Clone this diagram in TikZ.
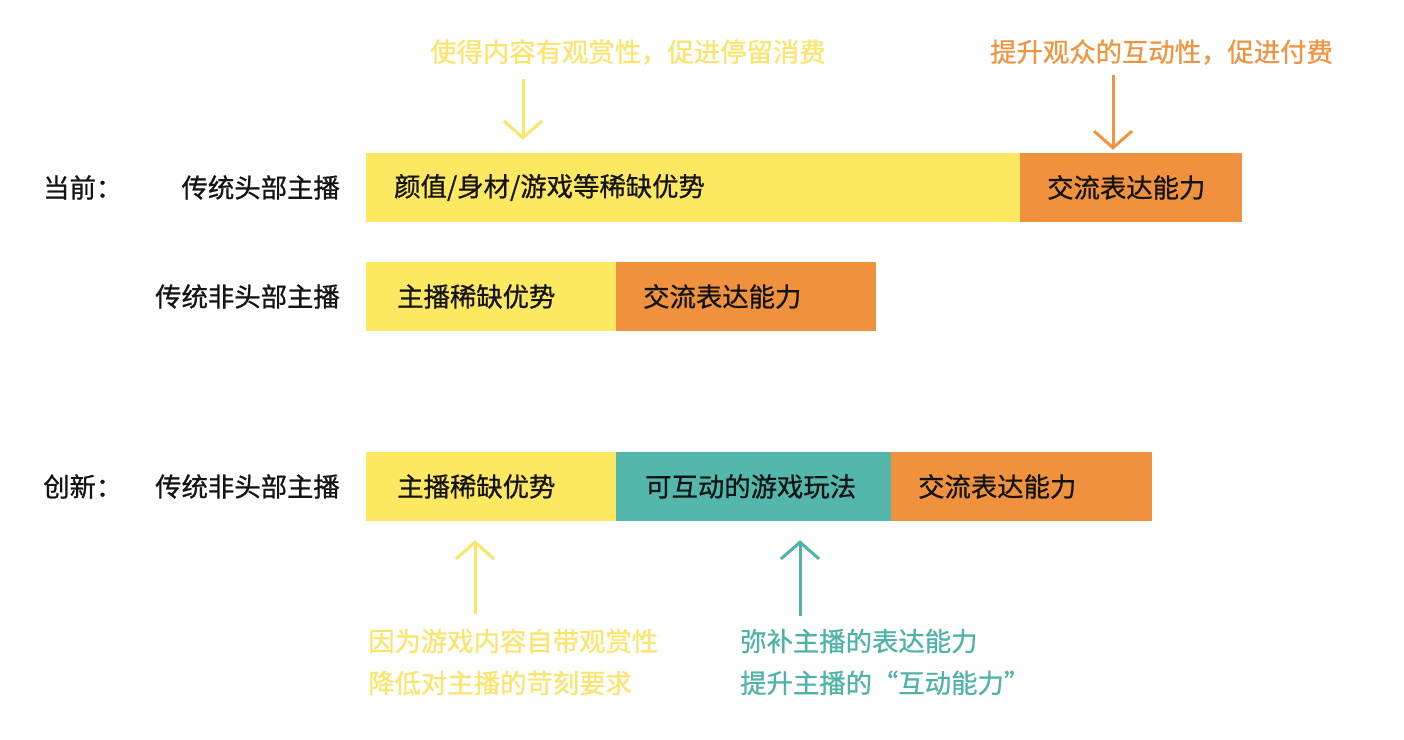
\documentclass[tikz,border=0pt]{standalone}
\usepackage{fontspec}
\setmainfont{Noto Sans CJK SC}[FakeBold=0.8]
\usetikzlibrary{arrows.meta,positioning}
\newlength\px
\setlength\px{0.03cm}
\definecolor{barYellow}{HTML}{FDE862}
\definecolor{barOrange}{HTML}{F0923D}
\definecolor{barTeal}{HTML}{53B7AC}
\definecolor{noteYellow}{HTML}{FBE46C}
\definecolor{noteOrange}{HTML}{EF9440}
\definecolor{noteTeal}{HTML}{4FB3A8}
\begin{document}
\begin{tikzpicture}[
    x=1\px, y=1\px,
    bar/.style={rectangle, anchor=west, minimum height=69\px, inner sep=0pt},
    txt/.style={inner sep=0pt, font=\fontsize{22.5}{27}\selectfont, text=black!92},
    tag/.style={txt, anchor=east},
    note/.style={inner sep=0pt, font=\fontsize{22.5}{35.7}\selectfont, anchor=west, align=left},
    pointer/.style={line width=0.09cm, -{Straight Barb[length=0.5cm, width=1.14cm, line width=0.09cm]}},
]
    \useasboundingbox (0,0) rectangle (1404,740);
    % current: top streamers
    \node[bar, fill=barYellow, minimum width=654\px] (cur) at (366,552.5) {};
    \node[bar, fill=barOrange, minimum width=222\px] (curTalk) at ([xshift=-0.5\px]cur.east) {};
    \node[txt, right=28\px of cur.west] (curTxt) {颜值/身材/游戏等稀缺优势};
    \node[txt, right=27\px of curTalk.west] (curTalkTxt) {交流表达能力};
    \node[txt, anchor=west] (nowTag) at (43,552.5) {当前：};
    \node[tag] (curTag) at (340,552.5) {传统头部主播};
    % current: non-top streamers
    \node[bar, fill=barYellow, minimum width=250\px] (low) at (366,443.5) {};
    \node[bar, fill=barOrange, minimum width=260\px] (lowTalk) at ([xshift=-0.5\px]low.east) {};
    \node[txt, right=31\px of low.west] (lowTxt) {主播稀缺优势};
    \node[txt, right=27\px of lowTalk.west] (lowTalkTxt) {交流表达能力};
    \node[tag] (lowTag) at (340,443.5) {传统非头部主播};
    % new: non-top streamers with games
    \node[bar, fill=barYellow, minimum width=250\px] (new) at (366,253.5) {};
    \node[bar, fill=barTeal, minimum width=275\px] (newGame) at ([xshift=-0.5\px]new.east) {};
    \node[bar, fill=barOrange, minimum width=261\px] (newTalk) at ([xshift=-0.5\px]newGame.east) {};
    \node[txt, right=31\px of new.west] (newTxt) {主播稀缺优势};
    \node[txt, right=29\px of newGame.west] (newGameTxt) {可互动的游戏玩法};
    \node[txt, right=27\px of newTalk.west] (newTalkTxt) {交流表达能力};
    \node[txt, anchor=west] (newLabel) at (43,253.5) {创新：};
    \node[tag] (newTag) at (340,253.5) {传统非头部主播};
    % notes
    \node[note, text=noteYellow] (viewNote) at (430,688) {使得内容有观赏性，促进停留消费};
    \node[note, text=noteOrange] (payNote) at (990,688) {提升观众的互动性，促进付费};
    \node[note, text=noteYellow] (gameNote) at (368,78) {因为游戏内容自带观赏性\\降低对主播的苛刻要求};
    \node[note, text=noteTeal] (talkNote) at (740,78) {弥补主播的表达能力\\提升主播的“互动能力”};
    \coordinate (viewPt) at (523,0);
    \coordinate (payPt) at (1113,0);
    \coordinate (gamePt) at (475,0);
    \coordinate (talkPt) at (800,0);
    \draw[pointer, noteYellow] ([yshift=-14\px]viewNote.south -| viewPt) -- ([yshift=13\px]cur.north -| viewPt);
    \draw[pointer, noteOrange] ([yshift=-10\px]payNote.south -| payPt) -- ([yshift=3\px]curTalk.north -| payPt);
    \draw[pointer, noteYellow] ([yshift=15\px]gameNote.north -| gamePt) -- ([yshift=-19\px]new.south -| gamePt);
    \draw[pointer, noteTeal] ([yshift=13\px]talkNote.north -| talkPt) -- ([yshift=-19\px]newGame.south -| talkPt);
\end{tikzpicture}
\end{document}
